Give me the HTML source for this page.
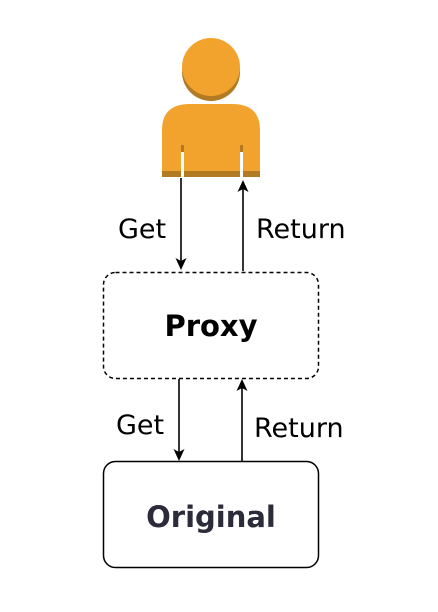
<!DOCTYPE html>
<html><head><style>
html,body{margin:0;padding:0;background:#fff;}
svg{display:block;}
text{font-family:"DejaVu Sans","Liberation Sans",sans-serif;}
</style></head><body>
<svg width="438" height="612" viewBox="0 0 438 612" xmlns="http://www.w3.org/2000/svg">
<!-- user icon -->
<circle cx="211" cy="72" r="29" fill="#b27a23"/>
<circle cx="211" cy="67" r="29" fill="#f2a32e"/>
<path d="M162 177 V130 Q162 104 190 104 H232 Q260 104 260 130 V177 Z" fill="#f2a32e"/>
<rect x="162" y="171" width="98" height="6" fill="#b27a23"/>
<rect x="181" y="145" width="3" height="7" fill="#b27a23"/>
<rect x="240" y="145" width="3" height="7" fill="#b27a23"/>
<rect x="181" y="152" width="3" height="26" fill="#fff"/>
<rect x="240" y="152" width="3" height="26" fill="#fff"/>
<!-- top arrows -->
<line x1="181" y1="178" x2="181" y2="262" stroke="#000" stroke-width="1.6"/>
<path d="M175.5 258 L181 270 L186.5 258 L181 261 Z" fill="#000"/>
<line x1="243" y1="271" x2="243" y2="188" stroke="#000" stroke-width="1.6"/>
<path d="M237.5 192 L243 180 L248.5 192 L243 189 Z" fill="#000"/>
<text x="118" y="238" font-size="27">Get</text>
<text x="256" y="238" font-size="27">Return</text>
<!-- proxy -->
<rect x="103.5" y="272.5" width="215" height="106" rx="12" fill="none" stroke="#000" stroke-width="1.5" stroke-dasharray="4,3"/>
<text x="211" y="336" font-size="29" font-weight="bold" text-anchor="middle">Proxy</text>
<!-- lower arrows -->
<line x1="179" y1="379" x2="179" y2="453" stroke="#000" stroke-width="1.6"/>
<path d="M173.5 449 L179 461 L184.5 449 L179 452 Z" fill="#000"/>
<line x1="242" y1="461" x2="242" y2="387" stroke="#000" stroke-width="1.6"/>
<path d="M236.5 391 L242 379 L247.5 391 L242 388 Z" fill="#000"/>
<text x="116" y="434" font-size="27">Get</text>
<text x="254" y="437" font-size="27">Return</text>
<!-- original -->
<rect x="103.5" y="461.5" width="215" height="106" rx="12" fill="#fff" stroke="#000" stroke-width="1.5"/>
<text x="211" y="527" font-size="29" font-weight="bold" text-anchor="middle" fill="#2b2b3a">Original</text>
</svg>
</body></html>
